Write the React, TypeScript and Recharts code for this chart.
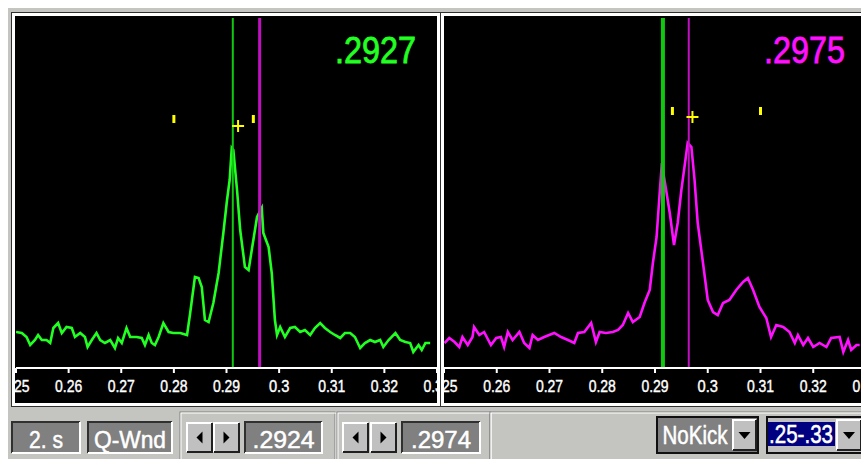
import React from "react";
import {
  ComposedChart,
  Line,
  XAxis,
  YAxis,
  ReferenceLine,
  ReferenceDot,
} from "recharts";

const axisTicks = [0.25, 0.26, 0.27, 0.28, 0.29, 0.3, 0.31, 0.32, 0.33];

// left spectrum (green)
const leftFreq = [
  0.25, 0.2511, 0.252, 0.2527, 0.2536, 0.2542, 0.2549, 0.2558, 0.2565, 0.2571,
  0.258, 0.2587, 0.2596, 0.2606, 0.2612, 0.2622, 0.2631, 0.2636, 0.2644, 0.2653,
  0.266, 0.2669, 0.2679, 0.2688, 0.2694, 0.2701, 0.271, 0.2717, 0.2729, 0.2739,
  0.2745, 0.2752, 0.2758, 0.2764, 0.2771, 0.278, 0.279, 0.2799, 0.2812, 0.2825,
  0.2831, 0.284, 0.2847, 0.2853, 0.2859, 0.2866, 0.2875, 0.2885, 0.2894, 0.2901,
  0.2906, 0.291, 0.2913, 0.292, 0.2926, 0.2935, 0.2942, 0.2948, 0.2958, 0.2967,
  0.297, 0.298, 0.2986, 0.2992, 0.2996, 0.3002, 0.3011, 0.3021, 0.303, 0.304,
  0.3049, 0.3059, 0.3068, 0.3078, 0.3087, 0.3097, 0.3106, 0.3116, 0.3125, 0.3135,
  0.3144, 0.3154, 0.3163, 0.3173, 0.3182, 0.3192, 0.3198, 0.3208, 0.3221, 0.323,
  0.324, 0.3249, 0.3255, 0.3265, 0.3271, 0.3278, 0.3287,
];
const leftAmp = [
  36, 35, 31, 23, 28, 33, 28, 28, 25, 40,
  45, 35, 41, 40, 31, 35, 31, 21, 28, 35,
  28, 25, 28, 20, 30, 25, 40, 31, 31, 30,
  23, 33, 25, 23, 31, 45, 36, 35, 35, 33,
  55, 91, 90, 81, 48, 46, 65, 95, 135, 168,
  188, 220, 218, 178, 138, 101, 98, 118, 151, 160,
  135, 121, 95, 48, 33, 41, 31, 40, 41, 36,
  38, 33, 40, 45, 40, 36, 33, 30, 35, 35,
  31, 20, 25, 28, 26, 28, 21, 28, 35, 28,
  26, 25, 16, 23, 18, 25, 25,
];

// right spectrum (magenta)
const rightFreq = [
  0.2501, 0.251, 0.252, 0.2529, 0.2535, 0.2545, 0.2554, 0.2557, 0.2567, 0.2576,
  0.2589, 0.2599, 0.2608, 0.2614, 0.2621, 0.263, 0.2643, 0.2652, 0.2662, 0.2668,
  0.2678, 0.269, 0.2709, 0.2722, 0.2735, 0.2747, 0.2754, 0.2766, 0.2779, 0.2788,
  0.2795, 0.2807, 0.282, 0.283, 0.2839, 0.2849, 0.2858, 0.2871, 0.288, 0.289,
  0.2896, 0.2903, 0.2907, 0.2913, 0.2918, 0.2928, 0.2936, 0.2943, 0.295, 0.2962,
  0.2969, 0.2975, 0.2981, 0.2991, 0.3, 0.301, 0.3019, 0.3029, 0.3041, 0.3054,
  0.3067, 0.3076, 0.3086, 0.3098, 0.3111, 0.312, 0.313, 0.3143, 0.3155, 0.3165,
  0.3171, 0.3181, 0.319, 0.32, 0.3212, 0.3225, 0.3234, 0.325, 0.3257, 0.3266,
  0.3272, 0.3282, 0.3288,
];
const rightAmp = [
  25, 30, 26, 21, 31, 23, 31, 41, 33, 36,
  23, 30, 31, 21, 36, 28, 36, 25, 20, 33,
  28, 31, 35, 31, 28, 25, 35, 36, 45, 26,
  36, 35, 36, 38, 43, 55, 46, 51, 65, 78,
  105, 131, 161, 205, 188, 155, 123, 145, 178, 225,
  221, 188, 145, 105, 68, 56, 53, 65, 68, 78,
  86, 90, 78, 61, 50, 31, 43, 41, 36, 25,
  33, 23, 30, 21, 25, 21, 30, 31, 16, 28,
  18, 23, 23,
];

// cursors: [green, magenta]
const leftCursors = [0.2912, 0.2963];
const rightCursors = [0.2915, 0.2964];

// yellow harmonic ticks and the peak cross
const leftTickFreq = [0.28, 0.2951];
const leftTickAmp = [249, 249];
const leftCross = [0.2922, 242];
const rightTickFreq = [0.2933, 0.31];
const rightTickAmp = [257, 257];
const rightCross = [0.2971, 251];

const leftReadout = ".2927";
const rightReadout = ".2975";

const FONT = "'Liberation Sans', Arial, sans-serif";

function AxisTick({ x, y, payload }: any) {
  const label = String(payload.value);
  return (
    <text
      x={x}
      y={y + 17}
      textAnchor="middle"
      fill="#fff"
      stroke="#fff"
      strokeWidth={0.4}
      fontSize={17}
      fontFamily={FONT}
      textLength={label.length * 6.8}
      lengthAdjust="spacingAndGlyphs"
    >
      {label}
    </text>
  );
}

const tickShape = (p: any) => (
  <rect x={p.cx - 1.5} y={p.cy - 4} width={3} height={8} fill="#ffff00" />
);

const crossShape = (p: any) => (
  <g stroke="#ffff00" strokeWidth={2}>
    <line x1={p.cx - 6} x2={p.cx + 6} y1={p.cy} y2={p.cy} />
    <line x1={p.cx} x2={p.cx} y1={p.cy - 6} y2={p.cy + 6} />
  </g>
);

function Spectrum({
  left,
  width,
  freq,
  amp,
  color,
  cursors,
  cursorWidths,
  tickFreq,
  tickAmp,
  cross,
  readout,
  marginLeft,
}: any) {
  const data = freq.map((f: number, i: number) => ({ f, a: amp[i] }));
  return (
    <div
      style={{
        position: "absolute",
        left,
        top: 13,
        width,
        height: 393,
        boxSizing: "border-box",
        border: "3px solid #fff",
        outline: "1px solid #303030",
        background: "#000",
        overflow: "hidden",
      }}
    >
      <div style={{ position: "absolute", left: 0, top: 2 }}>
        <ComposedChart
          width={440}
          height={385}
          data={data}
          margin={{ top: 0, right: 18, bottom: 0, left: marginLeft }}
        >
          <XAxis
            type="number"
            dataKey="f"
            domain={[0.25, 0.33]}
            ticks={axisTicks}
            interval={0}
            allowDataOverflow
            height={35}
            axisLine={{ stroke: "#fff", strokeWidth: 2 }}
            tickLine={{ stroke: "#fff", strokeWidth: 2 }}
            tickSize={5}
            tick={<AxisTick />}
          />
          <YAxis hide domain={[0, 350]} allowDataOverflow />
          <Line
            type="linear"
            dataKey="a"
            stroke={color}
            strokeWidth={2.6}
            dot={false}
            isAnimationActive={false}
          />
          <ReferenceLine x={cursors[0]} stroke="#10c810" strokeWidth={cursorWidths[0]} />
          <ReferenceLine x={cursors[1]} stroke="#c010c0" strokeWidth={cursorWidths[1]} />
          {tickFreq.map((f: number, i: number) => (
            <ReferenceDot key={i} x={f} y={tickAmp[i]} shape={tickShape} />
          ))}
          <ReferenceDot x={cross[0]} y={cross[1]} shape={crossShape} />
        </ComposedChart>
      </div>
      <div
        style={{
          position: "absolute",
          left: 320,
          top: 16,
          color,
          fontFamily: FONT,
          fontSize: 37,
          lineHeight: 1,
          WebkitTextStroke: `0.8px ${color}`,
          transform: "scaleX(0.875)",
          transformOrigin: "left top",
          whiteSpace: "nowrap",
        }}
      >
        {readout}
      </div>
    </div>
  );
}

function Sunken({ x, y, w, h, text, tw, base }: any) {
  return (
    <g>
      <rect x={x} y={y} width={w} height={h} fill="#808080" />
      <polyline
        points={`${x},${y + h} ${x},${y} ${x + w},${y}`}
        stroke="#303030"
        strokeWidth={2}
        fill="none"
      />
      <polyline
        points={`${x + w},${y} ${x + w},${y + h} ${x},${y + h}`}
        stroke="#fff"
        strokeWidth={2}
        fill="none"
      />
      <text
        x={x + w / 2}
        y={base}
        textAnchor="middle"
        fill="#fff"
        stroke="#fff"
        strokeWidth={0.5}
        fontSize={24}
        fontFamily={FONT}
        textLength={tw}
        lengthAdjust="spacingAndGlyphs"
      >
        {text}
      </text>
    </g>
  );
}

function Raised({ x, y, w, h, dir }: any) {
  const cx = x + w / 2;
  const cy = y + h / 2;
  let tri = "";
  if (dir === "left") tri = `${cx + 3},${cy - 6} ${cx + 3},${cy + 6} ${cx - 3},${cy}`;
  if (dir === "right") tri = `${cx - 3},${cy - 6} ${cx - 3},${cy + 6} ${cx + 3},${cy}`;
  if (dir === "down") tri = `${cx - 6},${cy - 3} ${cx + 6},${cy - 3} ${cx},${cy + 4}`;
  return (
    <g>
      <rect x={x} y={y} width={w} height={h} fill="#c0c0c0" />
      <polyline
        points={`${x},${y + h} ${x},${y} ${x + w},${y}`}
        stroke="#fff"
        strokeWidth={2}
        fill="none"
      />
      <polyline
        points={`${x + w},${y} ${x + w},${y + h} ${x},${y + h}`}
        stroke="#202020"
        strokeWidth={2}
        fill="none"
      />
      <polygon points={tri} fill="#000" />
    </g>
  );
}

function Group({ x, y, w, h }: any) {
  return (
    <g fill="none">
      <rect x={x} y={y} width={w} height={h} stroke="#808080" strokeWidth={1} />
      <rect x={x + 1} y={y + 1} width={w} height={h} stroke="#fff" strokeWidth={1} />
    </g>
  );
}

function Controls() {
  return (
    <svg
      width={861}
      height={459}
      style={{ position: "absolute", left: 0, top: 0 }}
    >
      <Sunken x={12} y={422} w={68} h={31} text="2. s" tw={34} base={448} />
      <Sunken x={88} y={422} w={84} h={31} text="Q-Wnd" tw={72} base={448} />
      <Group x={180} y={412} w={155} h={50} />
      <Raised x={187} y={423} w={25} h={29} dir="left" />
      <Raised x={214} y={423} w={25} h={29} dir="right" />
      <Sunken x={245} y={422} w={77} h={31} text=".2924" tw={62} base={448} />
      <Group x={337} y={412} w={153} h={50} />
      <Raised x={343} y={423} w={25} h={29} dir="left" />
      <Raised x={371} y={423} w={25} h={29} dir="right" />
      <Sunken x={402} y={422} w={78} h={31} text=".2974" tw={60} base={448} />
      <Group x={490} y={412} w={380} h={50} />
      {/* NoKick combo */}
      <rect x={657} y={417} width={101} height={36} fill="#808080" stroke="#101010" strokeWidth={2} />
      <text
        x={695}
        y={444}
        textAnchor="middle"
        fill="#fff"
        stroke="#fff"
        strokeWidth={0.5}
        fontSize={25}
        fontFamily={FONT}
        textLength={65}
        lengthAdjust="spacingAndGlyphs"
      >
        NoKick
      </text>
      <Raised x={733} y={420} w={23} h={30} dir="down" />
      {/* range combo */}
      <rect x={767} y={417} width={100} height={36} fill="#c0c0c0" stroke="#101010" strokeWidth={2} />
      <rect x={768} y={422} width={67} height={24} fill="#000080" />
      <text
        x={801}
        y={443}
        textAnchor="middle"
        fill="#fff"
        stroke="#fff"
        strokeWidth={0.5}
        fontSize={25}
        fontFamily={FONT}
        textLength={64}
        lengthAdjust="spacingAndGlyphs"
      >
        .25-.33
      </text>
      <Raised x={837} y={420} w={24} h={30} dir="down" />
    </svg>
  );
}

export default function App() {
  return (
    <div
      style={{
        position: "absolute",
        left: 0,
        top: 0,
        width: 861,
        height: 459,
        overflow: "hidden",
        background: "#fff",
      }}
    >
      <div
        style={{
          position: "absolute",
          left: 8,
          top: 8,
          width: 853,
          height: 451,
          background: "#c4c4c0",
        }}
      />
      <Controls />
      <Spectrum
        left={12}
        width={428}
        freq={leftFreq}
        amp={leftAmp}
        color="#22ff22"
        cursors={leftCursors}
        cursorWidths={[2, 3]}
        tickFreq={leftTickFreq}
        tickAmp={leftTickAmp}
        cross={leftCross}
        readout={leftReadout}
        marginLeft={1}
      />
      <Spectrum
        left={441}
        width={430}
        freq={rightFreq}
        amp={rightAmp}
        color="#ff10ff"
        cursors={rightCursors}
        cursorWidths={[4, 2]}
        tickFreq={rightTickFreq}
        tickAmp={rightTickAmp}
        cross={rightCross}
        readout={rightReadout}
        marginLeft={0}
      />
    </div>
  );
}
